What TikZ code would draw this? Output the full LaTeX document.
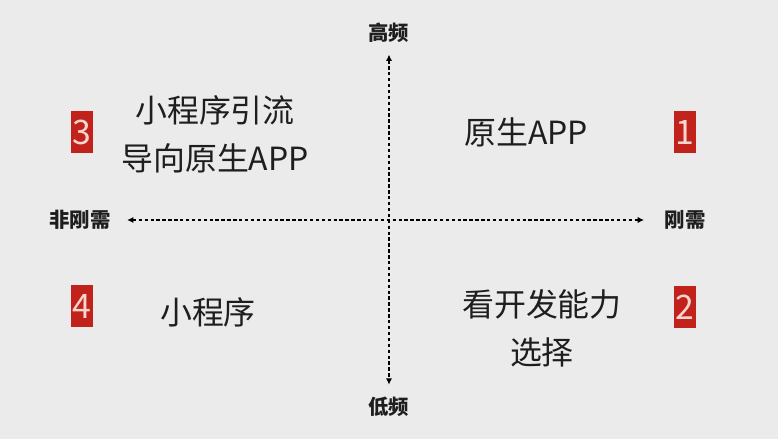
\documentclass[tikz,border=0pt]{standalone}
\usepackage{fontspec}
\setmainfont{Noto Sans CJK SC}
\usepackage{xcolor}
\usepackage{tikz}
\usetikzlibrary{arrows.meta, positioning}

\definecolor{bgcolor}{RGB}{235,235,235}
\definecolor{boxred}{RGB}{193,34,28}
\definecolor{boxtext}{RGB}{246,214,206}
\definecolor{darktext}{RGB}{30,30,30}

\begin{document}
\begin{tikzpicture}[auto, thick, node distance=2cm, >={Latex[length=4.5pt,width=4.5pt]}]
		
		% Define block styles
		\tikzstyle{axislabel} = [inner sep=0pt, text=darktext, font=\fontsize{14.5pt}{16pt}\selectfont\bfseries]
		\tikzstyle{quadrant} = [inner sep=0pt, text=darktext, align=center, font=\fontsize{22.7pt}{34pt}\selectfont]
		\tikzstyle{numbox} = [rectangle, fill=boxred, text=boxtext, minimum width=0.55cm, minimum height=1.05cm, inner sep=0pt, font=\fontsize{24pt}{26pt}\selectfont]
		\tikzstyle{axis} = [<->, line width=1.5pt, dash pattern=on 2.4pt off 1.8pt]
		
		% Background
		\fill[bgcolor] (-9.725,-5.475) rectangle (9.725,5.5);
		\useasboundingbox (-9.725,-5.475) rectangle (9.725,5.5);
		
		% Nodes
		\coordinate (origin) at (0,0);
		\node[axislabel, above of=origin, node distance=4.675cm] (high) {高频};
		\node[axislabel, below of=origin, node distance=4.675cm] (low) {低频};
		\node[axislabel, left of=origin, node distance=7.725cm] (soft) {非刚需};
		\node[axislabel, right of=origin, node distance=7.4cm] (rigid) {刚需};
		
		\node[numbox, above of=rigid, node distance=2.2cm] (one) {1};
		\node[numbox, below of=rigid, node distance=2.175cm] (two) {2};
		\node[numbox, above of=soft, node distance=2.2cm, xshift=0.05cm] (three) {3};
		\node[numbox, below of=soft, node distance=2.15cm, xshift=0.05cm] (four) {4};
		
		\node[quadrant] (native) at (3.425,2.2) {原生APP};
		\node[quadrant] (guide) at (-4.35,2.14) {小程序引流\\导向原生APP};
		\node[quadrant] (mini) at (-4.525,-2.3) {小程序};
		\node[quadrant] (choose) at (3.825,-2.71) {看开发能力\\选择};
		
		% Arrows
		\draw[axis, shorten <=0.4cm, shorten >=0.5cm] (soft) -- (rigid);
		\draw[axis, shorten <=0.28cm, shorten >=0.3cm] (high) -- (low);
		
	\end{tikzpicture}
\end{document}
